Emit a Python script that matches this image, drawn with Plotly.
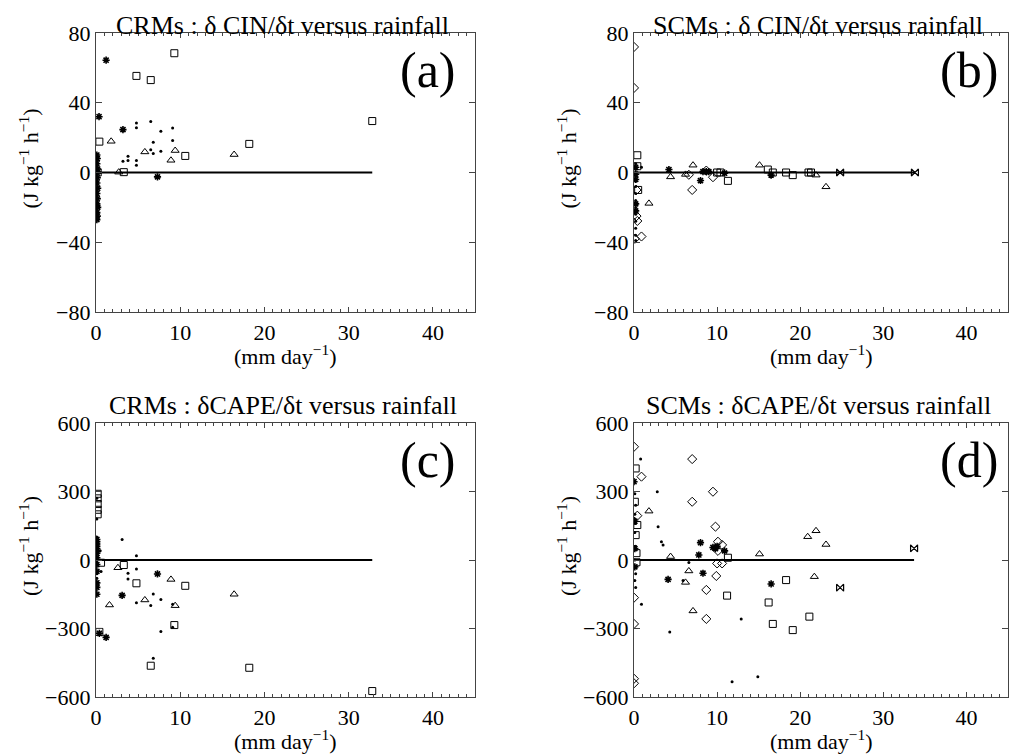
import plotly.graph_objects as go

# ---------------- Panel (a): CRMs dCIN/dt ----------------
a_sq_x = [9.3, 4.8, 6.5, 32.8, 0.4, 18.2, 10.6, 3.3, 0.2]
a_sq_y = [68.4, 55.4, 53.0, 29.5, 17.7, 16.4, 9.5, 0.2, 0.0]
a_tri_x = [1.8, 5.8, 9.4, 8.9, 16.4, 2.7]
a_tri_y = [17.9, 11.8, 12.6, 7.0, 10.3, 0.2]
a_ast_x = [1.2, 0.36, 3.2, 7.3, 0.1, 0.15, 0.1, 0.2, 0.1, 0.15, 0.1, 0.2, 0.1, 0.15, 0.1, 0.2, 0.1, 0.15, 0.1]
a_ast_y = [64.4, 32.0, 24.6, -2.5, 10, 8, 5, 2, 0, -3, -6, -9, -12, -15, -18, -20, -23, -25, -27]
a_dot_x = [4.8, 4.8, 6.5, 7.7, 9.1, 9.1, 6.8, 6.5, 6.8, 7.7, 3.8, 3.8, 3.2, 4.8, 4.8,
           0.1, 0.1, 0.1, 0.1, 0.1, 0.1, 0.1, 0.1, 0.5]
a_dot_y = [28.4, 25.7, 29.3, 23.6, 25.5, 18.3, 17.3, 13.1, 10.9, 12.2, 9.3, 6.9, 6.5, 6.9, 4.2,
           7, 3, -1, -5, -10, -14, -19, -24, 0]

# ---------------- Panel (b): SCMs dCIN/dt ----------------
b_sq_x = [0.4, 0.4, 0.5, 11.3, 10.0, 10.4, 16.1, 16.7, 18.3, 19.1, 21.0, 21.3]
b_sq_y = [9.9, 3.6, -10.0, -4.8, 0.0, 0.0, 1.7, 0.0, 0.0, -1.5, 0.0, 0.0]
b_tri_x = [4.4, 7.1, 6.2, 15.1, 21.9, 23.1, 1.8]
b_tri_y = [-2.5, 4.2, -1.1, 4.2, -1.5, -8.2, -17.7]
b_dia_x = [6.6, 7.0, 8.7, 9.5, 0.3, 0.4, 0.9, 0.1, 0.3, 0.0, 0.0]
b_dia_y = [-1.3, -10.0, 1.1, -2.7, -10.0, -27.8, -36.7, -38.0, -25.0, 72.0, 48.5]
b_ast_x = [4.2, 8.0, 8.3, 8.7, 9.0, 10.9, 16.5, 0.2, 0.2, 0.2, 0.2, 0.2]
b_ast_y = [1.7, -4.6, 0.5, 0.5, 0.5, -0.4, -1.5, 3, -1, -4, -18, -22]
b_dot_x = [0.9, 0.2, 0.2, 0.2, 0.2, 0.2, 0.2, 0.2, 0.2, 0.2, 0.2, 0.2, 0.2, 0.2, 0.2]
b_dot_y = [3.0, 5, 2, 0, -2, -5, -8, -12, -16, -20, -24, -28, -32, -36, -39]
b_bow_x = [24.8, 33.8]
b_bow_y = [0.0, 0.0]

# ---------------- Panel (c): CRMs dCAPE/dt ----------------
c_sq_x = [3.3, 4.8, 10.6, 9.3, 6.5, 18.2, 32.8, 0.2, 0.2, 0.2, 0.2, 0.2, 0.4, 0.6]
c_sq_y = [-22, -102, -113, -285, -463, -472, -574, 290, 270, 245, 220, 200, -315, -12]
c_tri_x = [2.6, 8.9, 16.4, 1.6, 5.8, 9.4]
c_tri_y = [-34, -85, -150, -197, -175, -200]
c_ast_x = [7.3, 3.1, 0.4, 1.2, 0.1, 0.1, 0.1, 0.1, 0.1, 0.1, 0.1, 0.1, 0.1, 0.1, 0.1, 0.1]
c_ast_y = [-61, -155, -321, -339, 90, 80, 70, 60, 50, 30, 10, -20, -50, -100, -120, -150]
c_dot_x = [3.1, 4.8, 0.5, 4.8, 3.8, 3.8, 4.8, 6.5, 6.8, 7.7, 9.1, 9.1, 7.7, 6.8, 0.6,
           0.1, 0.1, 0.1, 0.1, 0.1, 0.1, 0.1]
c_dot_y = [90, 19, 40, -39, -58, -83, -187, -199, -149, -173, -194, -295, -313, -430, -50,
           270, 180, 100, 40, -10, -60, -80]

# ---------------- Panel (d): SCMs dCAPE/dt ----------------
d_sq_x = [0.2, 0.1, 0.4, 0.2, 11.3, 18.3, 11.2, 16.2, 16.7, 21.1, 19.1, 0.3, 0.3]
d_sq_y = [401, 255, 153, 109, 10, -88, -156, -186, -280, -248, -307, 30, -10]
d_tri_x = [1.8, 20.9, 21.9, 23.1, 4.4, 15.1, 6.6, 21.7, 6.2, 7.1]
d_tri_y = [214, 102, 128, 68, 15, 26, -48, -73, -98, -223]
d_dia_x = [0.0, 0.9, 7.0, 9.5, 7.0, 0.4, 9.8, 10.1, 10.6, 10.1, 10.0, 10.6, 9.9, 8.7, 8.7,
           0.0, 0.0, 0.0, 0.0]
d_dia_y = [496, 365, 442, 299, 255, 194, 146, 80, 66, 40, -15, -15, -70, -131, -258,
           -165, -280, -520, -540]
d_ast_x = [0.0, 8.0, 7.8, 9.5, 9.8, 10.0, 10.9, 8.3, 4.1, 16.5, 0.1, 0.1, 0.1]
d_ast_y = [343, 76, 22, 55, 50, 60, 40, -58, -85, -105, 170, 50, -30]
d_dot_x = [0.8, 2.8, 2.9, 3.3, 3.5, 6.6, 5.9, 0.9, 12.9, 4.3, 11.8, 14.9,
           0.1, 0.2, 0.1, 0.2, 0.1, 0.2, 0.1, 0.2, 0.1, 0.2]
d_dot_y = [442, 299, 146, 80, 66, -11, -90, -194, -258, -315, -533, -511,
           290, 240, 200, 160, 120, 60, 0, -60, -90, -120]
d_bow_x = [33.7, 24.8]
d_bow_y = [51, -121]

# ---------------- text ----------------
titles = ["CRMs : δ CIN/δt versus rainfall", "SCMs : δ CIN/δt versus rainfall",
          "CRMs : δCAPE/δt versus rainfall", "SCMs : δCAPE/δt versus rainfall"]
panel_labels = ["(a)", "(b)", "(c)", "(d)"]
cin_ticks = [-80, -40, 0, 40, 80]
cape_ticks = [-600, -300, 0, 300, 600]
x_ticks = [0, 10, 20, 30, 40]
y_title = "(J kg<sup>−1</sup> h<sup>−1</sup>)"
x_title = "(mm day<sup>−1</sup>)"

FONT = "Liberation Serif"
OFF = 8                      # page body margin in the browser
W, H = 1025 - OFF, 754 - OFF  # figure size so that it fits the window

# layout geometry in window pixels
xdom_px = [(96, 475), (634, 1008)]
ydom_px = [(33, 312), (423, 697)]
title_center_px = [25, 405]


def px_x(p):
    return (p - OFF) / W


def px_y(p):
    return 1 - (p - OFF) / H


fig = go.Figure()

sym = {
    "sq": dict(symbol="square-open", size=7, line=dict(width=1, color="black")),
    "tri": dict(symbol="triangle-up-open", size=7, line=dict(width=1, color="black")),
    "dia": dict(symbol="diamond-open", size=7, line=dict(width=1, color="black")),
    "ast": dict(symbol="asterisk-open", size=6, line=dict(width=1.6, color="black")),
    "dot": dict(symbol="circle", size=3, line=dict(width=0)),
    "bow": dict(symbol="bowtie-open", size=7, line=dict(width=1.2, color="black")),
}

panels = [
    {"sq": (a_sq_x, a_sq_y), "tri": (a_tri_x, a_tri_y), "ast": (a_ast_x, a_ast_y),
     "dot": (a_dot_x, a_dot_y)},
    {"sq": (b_sq_x, b_sq_y), "tri": (b_tri_x, b_tri_y), "dia": (b_dia_x, b_dia_y),
     "ast": (b_ast_x, b_ast_y), "dot": (b_dot_x, b_dot_y), "bow": (b_bow_x, b_bow_y)},
    {"sq": (c_sq_x, c_sq_y), "tri": (c_tri_x, c_tri_y), "ast": (c_ast_x, c_ast_y),
     "dot": (c_dot_x, c_dot_y)},
    {"sq": (d_sq_x, d_sq_y), "tri": (d_tri_x, d_tri_y), "dia": (d_dia_x, d_dia_y),
     "ast": (d_ast_x, d_ast_y), "dot": (d_dot_x, d_dot_y), "bow": (d_bow_x, d_bow_y)},
]

label_right_px = [458, 1000, 458, 1000]

for i, pdata in enumerate(panels):
    col = i % 2
    row = i // 2
    n = "" if i == 0 else str(i + 1)
    xa, ya = "x" + n, "y" + n
    # zero reference line from 0 to largest rainfall in panel
    xmax = max(max(v[0]) for v in pdata.values())
    fig.add_trace(go.Scatter(x=[0, xmax], y=[0, 0], mode="lines",
                             line=dict(color="black", width=2),
                             xaxis=xa, yaxis=ya, showlegend=False, hoverinfo="skip"))
    for key, (xs, ys) in pdata.items():
        fig.add_trace(go.Scatter(x=xs, y=ys, mode="markers",
                                 marker=dict(color="black", **sym[key]),
                                 xaxis=xa, yaxis=ya, showlegend=False))

    x0, x1 = xdom_px[col]
    y0, y1 = ydom_px[row]
    ticks = cin_ticks if row == 0 else cape_ticks
    rng = [-80, 80] if row == 0 else [-600, 600]
    axis_common = dict(showgrid=False, zeroline=False, showline=True, linecolor="#444",
                       linewidth=1.2, ticks="inside", mirror="allticks",
                       tickcolor="#444", tickwidth=1, automargin=False,
                       tickfont=dict(family=FONT, size=22, color="black"))
    fig.layout["xaxis" + n] = dict(
        domain=[px_x(x0), px_x(x1)], range=[0, 45], anchor=ya,
        tickvals=x_ticks, ticktext=[str(t) for t in x_ticks], ticklen=5,
        minor=dict(ticks="inside", dtick=1, ticklen=3, tickcolor="#444", tickwidth=1),
        **axis_common)
    fig.layout["yaxis" + n] = dict(
        domain=[px_y(y1), px_y(y0)], range=rng, anchor=xa,
        tickvals=ticks, ticktext=[str(t).replace("-", "−") for t in ticks], ticklen=6,
        **axis_common)

    cx = (x0 + x1) / 2
    fig.add_annotation(x=px_x(cx - 3), y=px_y(title_center_px[row]), xref="paper", yref="paper",
                       text=titles[i], showarrow=False, xanchor="center", yanchor="middle",
                       font=dict(family=FONT, size=26, color="black"))
    fig.add_annotation(x=px_x(label_right_px[i]), y=px_y(y0 + 37), xref="paper", yref="paper",
                       text=panel_labels[i], showarrow=False, xanchor="right", yanchor="middle",
                       font=dict(family=FONT, size=50, color="black"))
    fig.add_annotation(x=px_x(cx), y=px_y(y1 + 43), xref="paper", yref="paper",
                       text=x_title, showarrow=False, xanchor="center", yanchor="middle",
                       font=dict(family=FONT, size=22, color="black"))
    fig.add_annotation(x=px_x(x0 - 67), y=px_y((y0 + y1) / 2 - 14), xref="paper", yref="paper",
                       text=y_title, showarrow=False, textangle=-90,
                       xanchor="center", yanchor="middle",
                       font=dict(family=FONT, size=22, color="black"))

fig.update_layout(width=W, height=H,
                  margin=dict(l=0, r=0, t=0, b=0, pad=0, autoexpand=False),
                  paper_bgcolor="white", plot_bgcolor="white", showlegend=False,
                  font=dict(family=FONT))

fig.write_html("out.html")
